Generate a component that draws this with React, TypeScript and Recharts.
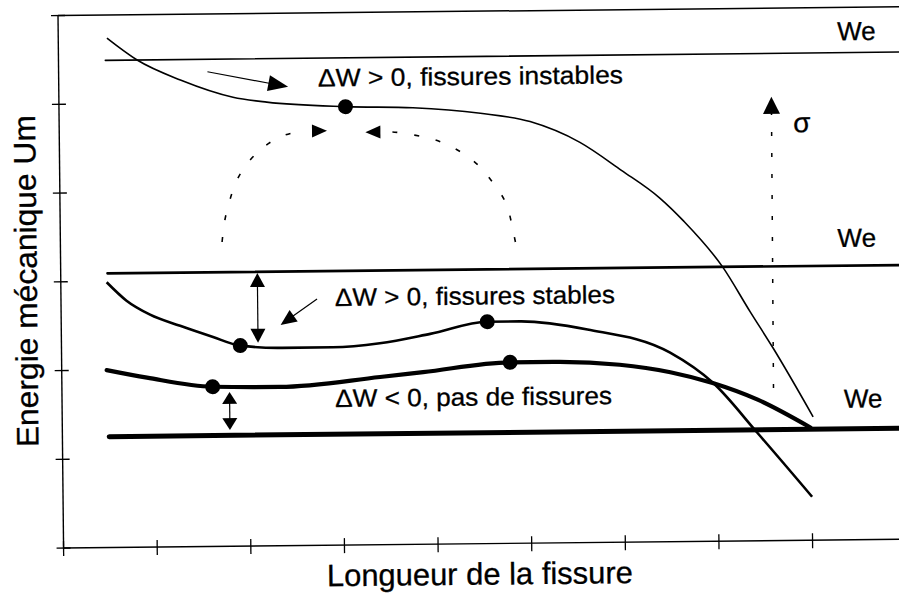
import React from "react";
import {
  ComposedChart,
  Line,
  Scatter,
  XAxis,
  YAxis,
  ReferenceLine,
  ReferenceDot,
  Label,
} from "recharts";

const X_TICKS = [0, 1, 2, 3, 4, 5, 6, 7, 8, 9];
const Y_TICKS = [0, 1, 2, 3, 4, 5, 6];

// We levels (top, middle, bottom) and where the lines start / end
const WE_LEVELS = [5.49, 3.09, 1.25];
const WE_SPAN = [0.5, 9.1];

// Um curves
const curveInstable = [
  { x: 0.52, y: 5.74 },
  { x: 0.84, y: 5.49 },
  { x: 1.3, y: 5.26 },
  { x: 1.86, y: 5.06 },
  { x: 2.22, y: 5.0 },
  { x: 3.06, y: 4.94 },
  { x: 3.78, y: 4.92 },
  { x: 4.5, y: 4.85 },
  { x: 5.03, y: 4.75 },
  { x: 5.56, y: 4.51 },
  { x: 6.0, y: 4.19 },
  { x: 6.41, y: 3.87 },
  { x: 6.66, y: 3.61 },
  { x: 7.07, y: 3.09 },
  { x: 7.36, y: 2.58 },
  { x: 7.6, y: 2.17 },
  { x: 8.02, y: 1.39 },
];

const curveStable = [
  { x: 0.49, y: 2.99 },
  { x: 0.7, y: 2.78 },
  { x: 0.95, y: 2.62 },
  { x: 1.27, y: 2.49 },
  { x: 1.62, y: 2.36 },
  { x: 1.91, y: 2.26 },
  { x: 2.34, y: 2.23 },
  { x: 2.9, y: 2.23 },
  { x: 3.4, y: 2.27 },
  { x: 3.94, y: 2.37 },
  { x: 4.55, y: 2.5 },
  { x: 4.9, y: 2.5 },
  { x: 5.62, y: 2.4 },
  { x: 6.5, y: 2.13 },
  { x: 6.96, y: 1.78 },
  { x: 7.42, y: 1.22 },
  { x: 8.0, y: 0.49 },
];

const curveNoCrack = [
  { x: 0.48, y: 2.0 },
  { x: 0.91, y: 1.91 },
  { x: 1.61, y: 1.8 },
  { x: 2.33, y: 1.79 },
  { x: 3.4, y: 1.89 },
  { x: 3.86, y: 1.94 },
  { x: 4.79, y: 2.04 },
  { x: 5.25, y: 2.04 },
  { x: 5.96, y: 2.0 },
  { x: 6.5, y: 1.91 },
  { x: 6.96, y: 1.78 },
  { x: 7.43, y: 1.59 },
  { x: 7.99, y: 1.27 },
];

const markedPoints = [
  { x: 3.06, y: 4.94 },
  { x: 1.91, y: 2.26 },
  { x: 4.55, y: 2.5 },
  { x: 1.61, y: 1.8 },
  { x: 4.79, y: 2.04 },
];

// dashed arcs towards the unstable point
const arcLeft = [
  { x: 1.727, y: 3.43 },
  { x: 1.76, y: 3.68 },
  { x: 1.82, y: 3.92 },
  { x: 1.905, y: 4.15 },
  { x: 2.036, y: 4.35 },
  { x: 2.197, y: 4.506 },
  { x: 2.39, y: 4.62 },
  { x: 2.6, y: 4.67 },
];
const arcLeftHead = [{ x: 2.7, y: 4.67 }, { x: 2.86, y: 4.67 }];

const arcRight = [
  { x: 4.86, y: 3.395 },
  { x: 4.82, y: 3.61 },
  { x: 4.756, y: 3.85 },
  { x: 4.63, y: 4.06 },
  { x: 4.49, y: 4.245 },
  { x: 4.31, y: 4.4 },
  { x: 4.1, y: 4.52 },
  { x: 3.89, y: 4.59 },
  { x: 3.64, y: 4.64 },
  { x: 3.5, y: 4.65 },
];
const arcRightHead = [{ x: 3.43, y: 4.65 }, { x: 3.27, y: 4.65 }];

// arrows: [from, to]
const pointerInstable = [{ x: 1.59, y: 5.35 }, { x: 2.45, y: 5.17 }];
const pointerStable = [{ x: 2.735, y: 2.776 }, { x: 2.343, y: 2.488 }];
const sigmaArrow = [{ x: 7.6, y: 1.72 }, { x: 7.61, y: 5.0 }];
const gapStable = [{ x: 2.1, y: 2.29 }, { x: 2.1, y: 3.076 }];
const gapNoCrack = [{ x: 1.79, y: 1.31 }, { x: 1.79, y: 1.74 }];

const notes = [
  { x: 2.77, y: 5.17, text: "ΔW > 0, fissures instables", len: 305 },
  { x: 2.927, y: 2.695, text: "ΔW > 0, fissures stables", len: 280 },
  { x: 2.917, y: 1.557, text: "ΔW < 0, pas de fissures", len: 277 },
];
const weLabels = [
  { x: 8.32, y: 5.63 },
  { x: 8.3, y: 3.3 },
  { x: 8.35, y: 1.49 },
];
const sigmaLabel = { x: 7.84, y: 4.6 };

const FONT = '"Liberation Sans", Arial, Helvetica, sans-serif';

type ArrowOpts = { len: number; half: number; both?: boolean; dash?: string; width?: number };

const arrowShape =
  ({ len, half, both = false, dash, width = 1.2 }: ArrowOpts) =>
  (p: any) => {
    const { x1, y1, x2, y2 } = p;
    const d = Math.hypot(x2 - x1, y2 - y1) || 1;
    const ux = (x2 - x1) / d;
    const uy = (y2 - y1) / d;
    const head = (tx: number, ty: number, sx: number, sy: number) => {
      const bx = tx - sx * len;
      const by = ty - sy * len;
      return `${tx},${ty} ${bx - sy * half},${by + sx * half} ${bx + sy * half},${by - sx * half}`;
    };
    const sx0 = both ? x1 + ux * len * 0.9 : x1;
    const sy0 = both ? y1 + uy * len * 0.9 : y1;
    const ex = x2 - ux * len * 0.9;
    const ey = y2 - uy * len * 0.9;
    const showShaft = d > len * (both ? 2 : 1) + 1;
    return (
      <g>
        {showShaft && (
          <line x1={sx0} y1={sy0} x2={ex} y2={ey} stroke="#000" strokeWidth={width} strokeDasharray={dash} />
        )}
        <polygon points={head(x2, y2, ux, uy)} fill="#000" />
        {both && <polygon points={head(x1, y1, -ux, -uy)} fill="#000" />}
      </g>
    );
  };

const textShape = (text: string, size: number, len?: number) => (p: any) => (
  <text
    x={p.cx}
    y={p.cy}
    fontSize={size}
    fill="#000"
    stroke="#000"
    strokeWidth={0.3}
    fontFamily={FONT}
    textLength={len}
    lengthAdjust={len ? "spacingAndGlyphs" : undefined}
  >
    {text}
  </text>
);

const YTick = (p: any) => (
  <line x1={p.x - 7} x2={p.x + 7} y1={p.y} y2={p.y} stroke="#000" strokeWidth={1.3} />
);
const XTick = (p: any) => (
  <line x1={p.x} x2={p.x} y1={p.y - 7} y2={p.y + 8} stroke="#000" strokeWidth={1.3} />
);

const YTitle = (p: any) => {
  const { x, y, height } = p.viewBox;
  const cx = x + 37;
  const cy = y + height / 2 - 1;
  return (
    <text
      x={cx}
      y={cy}
      transform={`rotate(-90 ${cx} ${cy})`}
      textAnchor="middle"
      fontSize={31}
      fontFamily={FONT}
      fill="#000"
      stroke="#000"
      strokeWidth={0.3}
      textLength={332}
      lengthAdjust="spacingAndGlyphs"
    >
      Energie mécanique Um
    </text>
  );
};

const XTitle = (p: any) => {
  const { x, y } = p.viewBox;
  return (
    <text
      x={x + 416}
      y={y + 41}
      textAnchor="middle"
      fontSize={31}
      fontFamily={FONT}
      fill="#000"
      stroke="#000"
      strokeWidth={0.3}
      textLength={306}
      lengthAdjust="spacingAndGlyphs"
    >
      Longueur de la fissure
    </text>
  );
};

const weWidths = [1.6, 2.7, 5];

export default function App() {
  return (
    <div
      style={{
        position: "absolute",
        left: 0,
        top: 0,
        width: 899,
        height: 599,
        overflow: "hidden",
        background: "#fff",
        fontFamily: FONT,
      }}
    >
      <div style={{ width: 913, height: 599, transform: "rotate(-0.6deg)", transformOrigin: "450px 300px" }}>
        <ComposedChart width={913} height={599} margin={{ top: 11.5, right: 0, bottom: 0, left: 0 }}>
          <XAxis
            type="number"
            dataKey="x"
            domain={[0, 9.1]}
            ticks={X_TICKS}
            height={55}
            tickSize={0}
            tickMargin={0}
            tickLine={false}
            tick={<XTick />}
            axisLine={{ stroke: "#000", strokeWidth: 1.4 }}
            allowDataOverflow
          >
            <Label content={<XTitle />} />
          </XAxis>
          <YAxis
            type="number"
            dataKey="y"
            domain={[0, 6]}
            ticks={Y_TICKS}
            width={61}
            tickSize={0}
            tickMargin={0}
            tickLine={false}
            tick={<YTick />}
            axisLine={{ stroke: "#000", strokeWidth: 1.4 }}
            allowDataOverflow
          >
            <Label content={<YTitle />} />
          </YAxis>

          {/* top frame */}
          <ReferenceLine
            segment={[{ x: 0, y: 6 }, { x: 9.1, y: 6 }]}
            stroke="#000"
            strokeWidth={1.5}
            ifOverflow="visible"
          />

          {WE_LEVELS.map((lv, i) => (
            <ReferenceLine
              key={`we-${i}`}
              segment={[{ x: WE_SPAN[0], y: lv }, { x: WE_SPAN[1], y: lv }]}
              stroke="#000"
              strokeWidth={weWidths[i]}
              strokeLinecap="round"
              ifOverflow="visible"
            />
          ))}

          <Line data={curveInstable} dataKey="y" type="monotone" stroke="#000" strokeWidth={1.6} dot={false} activeDot={false} isAnimationActive={false} />
          <Line data={curveStable} dataKey="y" type="monotone" stroke="#000" strokeWidth={2.6} dot={false} activeDot={false} isAnimationActive={false} />
          <Line data={curveNoCrack} dataKey="y" type="monotone" stroke="#000" strokeWidth={4.2} strokeLinecap="round" dot={false} activeDot={false} isAnimationActive={false} />

          <Line data={arcLeft} dataKey="y" type="natural" stroke="#000" strokeWidth={1.6} strokeDasharray="5 17" dot={false} activeDot={false} isAnimationActive={false} />
          <Line data={arcRight} dataKey="y" type="natural" stroke="#000" strokeWidth={1.6} strokeDasharray="5 17" dot={false} activeDot={false} isAnimationActive={false} />

          <ReferenceLine segment={arcLeftHead} shape={arrowShape({ len: 15, half: 6.5 })} />
          <ReferenceLine segment={arcRightHead} shape={arrowShape({ len: 15, half: 6.5 })} />
          <ReferenceLine segment={pointerInstable} shape={arrowShape({ len: 20, half: 8 })} />
          <ReferenceLine segment={pointerStable} shape={arrowShape({ len: 16, half: 7 })} />
          <ReferenceLine segment={sigmaArrow} shape={arrowShape({ len: 17, half: 8.5, dash: "4 17", width: 1.5 })} />
          <ReferenceLine segment={gapStable} shape={arrowShape({ len: 14, half: 7.5, both: true })} />
          <ReferenceLine segment={gapNoCrack} shape={arrowShape({ len: 12, half: 7.5, both: true })} />

          <Scatter
            data={markedPoints}
            isAnimationActive={false}
            shape={(p: any) => <circle cx={p.cx} cy={p.cy} r={7.5} fill="#000" />}
          />

          {notes.map((n, i) => (
            <ReferenceDot key={`note-${i}`} x={n.x} y={n.y} shape={textShape(n.text, 25, n.len)} />
          ))}
          {weLabels.map((w, i) => (
            <ReferenceDot key={`we-label-${i}`} x={w.x} y={w.y} shape={textShape("We", 26)} />
          ))}
          <ReferenceDot x={sigmaLabel.x} y={sigmaLabel.y} shape={textShape("σ", 28)} />
        </ComposedChart>
      </div>
    </div>
  );
}
